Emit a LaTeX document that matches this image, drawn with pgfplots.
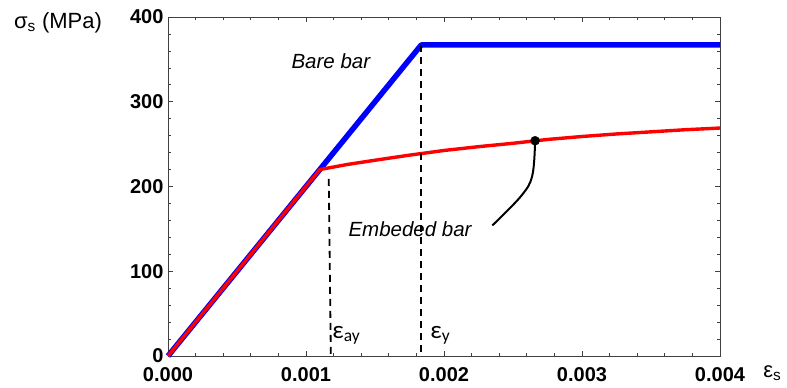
\documentclass[border=0pt]{standalone}
\usepackage{fontspec}
\setmainfont{Liberation Sans}
\newfontfamily\calib{Carlito}
\usepackage{pgfplots}
\pgfplotsset{compat=1.18}
\begin{document}
\begin{tikzpicture}[x=1pt,y=1pt]
\path[use as bounding box] (0,0) rectangle (787,388);
\begin{axis}[
  at={(168pt,32pt)}, anchor=south west,
  scale only axis, width=552pt, height=339pt,
  xmin=0, xmax=0.004, ymin=0, ymax=400,
  clip=false,
  axis line style={black!75, line width=0.9pt},
  xtick={0,0.001,0.002,0.003,0.004},
  xticklabels={0.000,0.001,0.002,0.003,0.004},
  scaled x ticks=false,
  ytick={0,100,200,300,400},
  minor tick num=4,
  major tick length=5pt, minor tick length=3pt,
  tick style={black!75, line width=0.7pt},
  /pgf/number format/assume math mode=true,
  tick label style={font=\fontsize{20}{20}\selectfont\bfseries},
  xticklabel style={yshift=-8pt},
  yticklabel style={xshift=-1pt},
]
% bare bar
\addplot[blue, line width=5.5pt, line join=round] coordinates {(0,0) (0.001835,367) (0.004,367)};
% embedded bar
\addplot[red, line width=3.4pt, line join=round] coordinates {
(0,0) (0.0011,220) (0.0013,226) (0.0015,231) (0.00175,237) (0.002,242.5) (0.00225,247) (0.0025,251) (0.00275,255.5) (0.003,259) (0.00325,262) (0.0035,264.5) (0.00375,267) (0.004,269)};
% dashed markers
\addplot[black, line width=1.8pt, dash pattern=on 7pt off 5pt] coordinates {(0.001165,209) (0.00118,0)};
\addplot[black, line width=1.8pt, dash pattern=on 7pt off 5pt] coordinates {(0.001832,367) (0.001832,0)};
% annotation
\addplot[black, line width=2pt, smooth, tension=0.6] coordinates {(0.00266,254) (0.00264,213) (0.00256,189) (0.00235,154)};
\addplot[only marks, mark=*, mark size=4.5pt, black] coordinates {(0.00266,254)};
% labels
\node[font=\fontsize{20.5}{20.5}\selectfont\itshape] at (axis cs:0.00118,348) {Bare bar};
\node[font=\fontsize{20.5}{20.5}\selectfont\itshape] at (axis cs:0.001754,150) {Embeded bar};
\node[anchor=base west, font=\fontsize{25}{25}\selectfont\calib, inner sep=0pt] at (axis cs:0.00119,21) {ε\textsubscript{ay}};
\node[anchor=base west, font=\fontsize{25}{25}\selectfont\calib, inner sep=0pt] at (axis cs:0.00190,21) {ε\textsubscript{y}};
\node[font=\fontsize{22}{22}\selectfont] at (axis cs:-0.000797,393) {σ\textsubscript{s} (MPa)};
\node[font=\fontsize{22}{22}\selectfont] at (axis cs:0.00438,-20) {ε\textsubscript{s}};
\end{axis}
\end{tikzpicture}
\end{document}
